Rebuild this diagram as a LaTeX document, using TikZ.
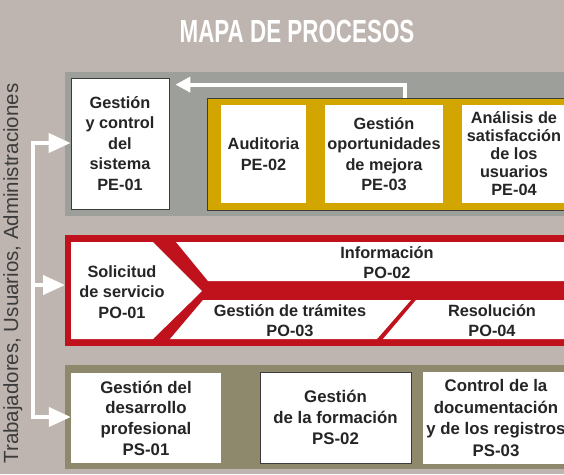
\documentclass[tikz,border=0pt]{standalone}
\usepackage{fontspec}
\setmainfont{Liberation Sans}
\usetikzlibrary{arrows.meta}

\definecolor{paper}{RGB}{191,181,176}
\definecolor{stone}{RGB}{157,159,155}
\definecolor{gold}{RGB}{210,165,0}
\definecolor{wine}{RGB}{192,18,28}
\definecolor{olive}{RGB}{142,137,108}
\definecolor{ink}{RGB}{38,36,36}
\definecolor{edge}{RGB}{60,60,60}

\begin{document}
\begin{tikzpicture}[x=1pt, y=-1pt,
    band/.style={anchor=north west, inner sep=0pt, outer sep=0pt},
    box/.style={fill=white, inner sep=0pt, align=center, text=ink,
      font=\bfseries\fontsize{16.3}{20.5}\selectfont},
    label/.style={inner sep=0pt, align=center, text=ink,
      font=\bfseries\fontsize{16.3}{20.5}\selectfont},
    wline/.style={white, line width=4pt},
    warrow/.style={wline, -{Triangle[length=22pt, width=19pt]}}]
    \useasboundingbox (0, 0) rectangle (564, 474);
    \clip (0, 0) rectangle (564, 474);
    \fill[paper] (0, 0) rectangle (564, 474);
    \node[text=white, font=\bfseries\fontsize{32}{32}\selectfont] (title) at (297, 31.5) {\scalebox{0.70}[1]{MAPA DE PROCESOS}};
    \node[rotate=90, anchor=base, text=edge, font=\fontsize{20.5}{24}\selectfont] (actors) at (18, 273.5) {Trabajadores, Usuarios, Administraciones};
    % estrategicos
    \node[band, fill=stone, minimum width=520, minimum height=144] (peband) at (65, 72) {};
    \node[box, draw=edge, line width=0.8pt, minimum width=98, minimum height=131] (pe01) at (120, 143.5) {Gestión\\y control\\del\\sistema\\PE-01};
    \node[band, fill=gold, draw=edge, line width=0.8pt, minimum width=400, minimum height=112] (goldframe) at (207, 98) {};
    \node[box, minimum width=85, minimum height=98] (pe02) at (263.5, 154) {Auditoria\\PE-02};
    \node[box, minimum width=118, minimum height=98] (pe03) at (384, 154) {Gestión\\oportunidades\\de mejora\\PE-03};
    \node[box, minimum width=104, minimum height=98, font=\bfseries\fontsize{16.3}{18}\selectfont] (pe04) at (514, 154) {Análisis de\\satisfacción\\de los\\usuarios\\PE-04};
    % operativos
    \node[band, fill=wine, minimum width=520, minimum height=111] (poframe) at (65, 235) {};
    \fill[white] (71, 242) -- (153, 242) -- (202, 291) -- (153, 339) -- (71, 339) -- cycle;
    \fill[white] (176, 242) -- (570, 242) -- (570, 281) -- (208, 281) -- cycle;
    \fill[white] (203, 300) -- (411, 300) -- (377, 339) -- (170, 339) -- cycle;
    \fill[white] (416, 300) -- (570, 300) -- (570, 339) -- (383, 339) -- cycle;
    \node[label] (po01) at (122, 292) {Solicitud\\de servicio\\PO-01};
    \node[label] (po02) at (387, 262.5) {Información\\PO-02};
    \node[label, font=\bfseries\fontsize{16.3}{20}\selectfont] (po03) at (290, 321) {Gestión de trámites\\PO-03};
    \node[label, font=\bfseries\fontsize{16.3}{20}\selectfont] (po04) at (492, 321) {Resolución\\PO-04};
    % soporte
    \node[band, fill=olive, minimum width=520, minimum height=104] (psband) at (65, 365) {};
    \node[box, minimum width=150, minimum height=90, font=\bfseries\fontsize{16.8}{20.7}\selectfont] (ps01) at (146, 418) {Gestión del\\desarrollo\\profesional\\PS-01};
    \node[box, draw=edge, line width=0.8pt, minimum width=151, minimum height=91, font=\bfseries\fontsize{16.8}{21}\selectfont] (ps02) at (335.5, 417.5) {Gestión\\de la formación\\PS-02};
    \node[box, minimum width=146, minimum height=92, font=\bfseries\fontsize{16.8}{21.5}\selectfont] (ps03) at (496, 418) {Control de la\\documentación\\y de los registros\\PS-03};
    % flechas
    \coordinate (bus1) at (33, 143);
    \coordinate (bus2) at (33, 285);
    \coordinate (bus3) at (33, 417);
    \draw[wline, line cap=rect] (bus1) -- (bus3);
    \draw[warrow] (bus1) -- (bus1 -| pe01.west);
    \draw[warrow] (bus2) -- (bus2 -| poframe.west);
    \draw[warrow] (bus3) -- (bus3 -| ps01.west);
    \coordinate (ret) at (405, 98);
    \draw[wline, -{Triangle[length=15pt, width=15pt]}] (ret) |- ([shift={(6, 7)}]pe01.north east);
\end{tikzpicture}
\end{document}
